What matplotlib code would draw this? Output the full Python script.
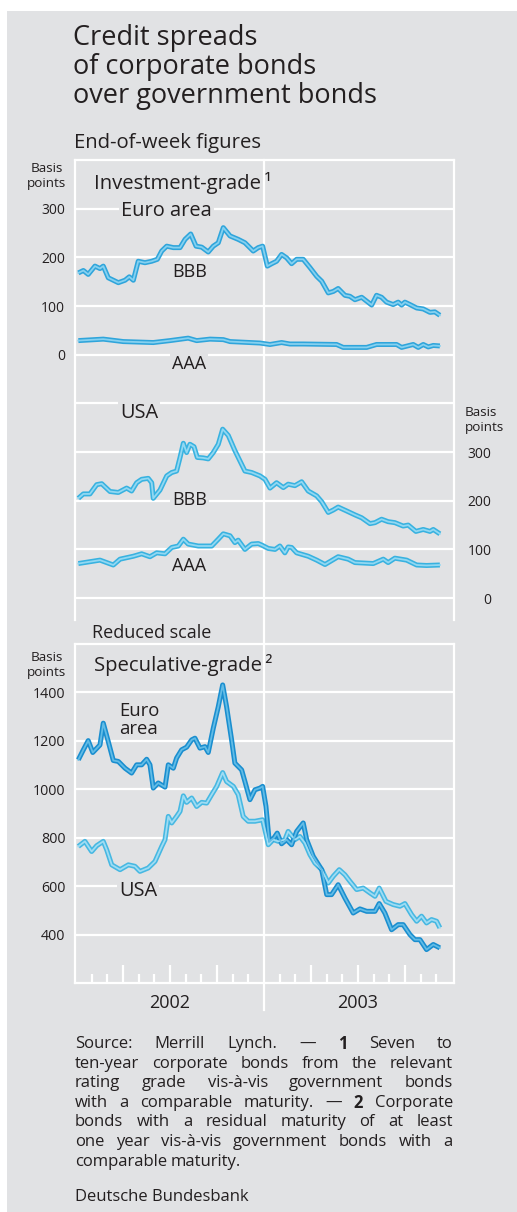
import matplotlib
matplotlib.use('Agg')
import matplotlib.pyplot as plt
from matplotlib import transforms
from matplotlib.patches import Rectangle
from matplotlib.lines import Line2D

# ---------------- data (months since 1 Jan 2002, basis points) ----------------
eu_bbb_t = [0.15, 0.47, 0.78, 1.21, 1.53, 1.74, 2.06, 2.38, 2.70, 3.13, 3.40, 3.66, 3.97, 4.40,
            4.83, 5.19, 5.47, 5.79, 6.21, 6.64, 6.96, 7.32, 7.66, 8.02, 8.44, 8.76, 9.08, 9.40,
            9.83, 10.35, 10.78, 11.31, 11.63, 11.91, 12.21, 12.49, 12.80, 13.12, 13.44, 13.76,
            14.08, 14.50, 14.93, 15.36, 15.68, 16.10, 16.42, 16.73, 17.16, 17.48, 17.80, 18.23,
            18.55, 18.87, 19.18, 19.50, 19.82, 20.24, 20.56, 20.78, 20.99, 21.31, 21.74, 22.16,
            22.59, 22.90, 23.22]
eu_bbb = [168, 173, 165, 182, 177, 182, 158, 153, 148, 153, 160, 153, 192, 189, 192, 196, 213,
          223, 220, 220, 237, 248, 223, 221, 211, 223, 230, 261, 244, 237, 230, 213, 220, 223,
          182, 187, 192, 206, 199, 187, 196, 196, 179, 161, 151, 127, 130, 136, 122, 120, 113,
          118, 110, 102, 122, 118, 108, 103, 108, 102, 108, 103, 96, 94, 87, 88, 81]

eu_aaa_t = [0.15, 1.74, 3.02, 4.93, 6.00, 7.16, 7.70, 8.55, 9.40, 9.83, 11.74, 12.38, 13.12,
            13.65, 14.50, 16.63, 17.05, 17.91, 18.55, 19.18, 20.46, 20.78, 21.52, 21.84, 22.16,
            22.48, 22.80, 23.22]
eu_aaa = [29, 32, 27, 25, 29, 34, 29, 32, 31, 27, 24, 21, 25, 22, 22, 21, 15, 15, 15, 21, 21,
          15, 21, 15, 21, 16, 19, 18]

us_bbb_t = [0.15, 0.47, 0.89, 1.32, 1.64, 2.17, 2.70, 3.23, 3.55, 3.87, 4.19, 4.61, 4.83, 4.93,
            5.36, 5.79, 6.11, 6.42, 6.64, 6.85, 7.06, 7.27, 7.53, 7.74, 8.12, 8.44, 8.76, 9.08,
            9.36, 9.72, 10.14, 10.46, 10.78, 11.21, 11.74, 12.06, 12.38, 12.80, 13.23, 13.54,
            13.97, 14.40, 14.82, 15.36, 15.68, 16.10, 16.42, 16.73, 17.27, 17.80, 18.23, 18.76,
            19.08, 19.50, 19.92, 20.35, 20.88, 21.20, 21.69, 22.16, 22.59, 22.80, 23.22]
us_bbb = [205, 214, 214, 233, 235, 219, 217, 226, 220, 237, 244, 246, 237, 205, 222, 251, 258,
          261, 289, 318, 299, 316, 311, 289, 288, 286, 299, 316, 347, 334, 303, 282, 261, 258,
          251, 244, 226, 237, 227, 234, 231, 239, 220, 210, 198, 176, 181, 187, 179, 171, 165,
          153, 155, 162, 157, 155, 148, 150, 137, 141, 137, 141, 132]

us_aaa_t = [0.15, 1.53, 2.38, 2.81, 3.66, 4.19, 4.72, 5.15, 5.68, 6.11, 6.53, 6.85, 7.16, 7.80,
            8.66, 9.08, 9.40, 9.83, 10.14, 10.35, 10.78, 11.21, 11.63, 11.85, 12.27, 12.70,
            13.01, 13.33, 13.54, 13.76, 14.08, 14.82, 15.36, 15.89, 16.73, 17.37, 17.80, 18.97,
            19.61, 19.92, 20.35, 21.10, 21.74, 22.37, 23.22]
us_aaa = [71, 78, 68, 80, 86, 91, 85, 93, 91, 104, 107, 121, 111, 107, 107, 121, 132, 128, 114,
          119, 100, 111, 112, 109, 102, 100, 107, 93, 105, 104, 93, 86, 78, 69, 85, 80, 73, 71,
          80, 73, 82, 78, 68, 67, 68]

spec_eu_t = [0.15, 0.47, 0.78, 1.07, 1.53, 1.74, 2.06, 2.38, 2.70, 3.13, 3.55, 3.87, 4.19, 4.51,
             4.72, 4.93, 5.25, 5.68, 5.89, 6.21, 6.42, 6.74, 7.06, 7.38, 7.59, 7.91, 8.23, 8.44,
             8.76, 9.08, 9.36, 9.61, 9.93, 10.14, 10.57, 10.78, 11.10, 11.42, 11.74, 11.91,
             12.12, 12.33, 12.63, 12.84, 13.12, 13.44, 13.76, 14.08, 14.50, 14.72, 15.14, 15.68,
             16.00, 16.31, 16.73, 17.16, 17.69, 18.12, 18.55, 19.08, 19.35, 19.71, 20.14, 20.56,
             20.88, 21.31, 21.63, 21.95, 22.37, 22.80, 23.22]
spec_eu = [1122, 1163, 1201, 1152, 1183, 1273, 1197, 1119, 1115, 1087, 1067, 1101, 1101, 1124,
           1101, 1005, 1026, 1009, 1101, 1087, 1129, 1163, 1174, 1204, 1211, 1170, 1176, 1152,
           1252, 1341, 1431, 1341, 1204, 1108, 1080, 1032, 957, 998, 1005, 1012, 930, 785, 799,
           819, 775, 792, 771, 826, 861, 792, 723, 668, 565, 565, 606, 551, 489, 506, 496, 496,
           528, 489, 420, 441, 441, 400, 379, 379, 338, 359, 345]

spec_us_t = [0.15, 0.57, 1.00, 1.32, 1.74, 1.96, 2.28, 2.81, 3.34, 3.76, 4.08, 4.61, 5.04, 5.47,
             5.68, 5.89, 6.11, 6.42, 6.64, 6.85, 7.06, 7.38, 7.70, 8.02, 8.34, 8.66, 8.98, 9.36,
             9.61, 10.04, 10.35, 10.67, 10.99, 11.42, 11.91, 12.27, 12.59, 12.91, 13.33, 13.54,
             13.97, 14.29, 14.61, 14.93, 15.25, 15.68, 16.10, 16.42, 16.80, 17.16, 17.48, 17.91,
             18.33, 18.76, 19.08, 19.35, 19.78, 20.24, 20.67, 20.99, 21.42, 21.74, 22.05, 22.37,
             22.69, 23.01, 23.22]
spec_us = [764, 785, 743, 767, 785, 750, 688, 668, 688, 682, 661, 675, 702, 764, 792, 888, 861,
           888, 909, 973, 946, 964, 929, 946, 943, 978, 1012, 1069, 1032, 1012, 978, 888, 868,
           868, 874, 771, 792, 785, 792, 826, 792, 805, 778, 730, 695, 668, 613, 641, 668, 647,
           620, 586, 592, 572, 558, 592, 537, 524, 517, 528, 482, 455, 476, 448, 462, 455, 428]

inv_left_ticks = [0, 100, 200, 300]
inv_right_ticks = [0, 100, 200, 300]
spec_ticks = [400, 600, 800, 1000, 1200, 1400]
year_labels = ['2002', '2003']

# ---------------- style ----------------
W, H = 517, 1212
plt.rcParams['font.family'] = ['Open Sans', 'DejaVu Sans']
TXT = '#231f20'
BG = '#e1e2e4'
GRID = 'white'

fig = plt.figure(figsize=(W / 100, H / 100), dpi=100, facecolor='white')
fig.add_artist(Rectangle((7 / W, 0), 1 - 7 / W, 1 - 11 / H, transform=fig.transFigure,
                         facecolor=BG, edgecolor='none', zorder=-5))


def fx(px):
    return px / W


def fy(py):
    return 1 - py / H


XMIN, XMAX = -1 / 15.67, (454 - 76) / 15.67


def cased(ax, t, v, outer, inner, lw=3.6):
    ax.plot(t, v, color=outer, lw=lw, solid_joinstyle='round', solid_capstyle='butt', zorder=3)
    ax.plot(t, v, color=inner, lw=lw * 0.36, solid_joinstyle='round', zorder=4)


# ---------------- investment grade panel ----------------
ax1 = fig.add_axes([fx(75), fy(620), (454 - 75) / W, (620 - 160) / H])
ax1.set_facecolor('none')
ax1.set_xlim(XMIN, XMAX)
ax1.set_ylim(-545, 400)
grid_levels = list(range(-500, 301, 100))
ax1.set_yticks(grid_levels)
ax1.set_yticklabels([str(v) if v in inv_left_ticks else '' for v in grid_levels])
ax1.set_xticks([])
ax1.tick_params(axis='y', length=0, pad=7, labelsize=10, labelcolor=TXT)
ax1.grid(axis='y', color=GRID, lw=1.6)
for s in ['left', 'right', 'top']:
    ax1.spines[s].set_color(GRID)
    ax1.spines[s].set_linewidth(1.6)
ax1.spines['bottom'].set_visible(False)

inv_c_out, inv_c_in = '#2fa5db', '#86d1f0'
cased(ax1, eu_bbb_t, eu_bbb, inv_c_out, inv_c_in)
cased(ax1, eu_aaa_t, eu_aaa, inv_c_out, inv_c_in)

ax1r = ax1.twinx()
ax1r.set_facecolor('none')
ax1r.set_ylim(-45, 900)
ax1r.set_yticks(inv_right_ticks)
ax1r.set_yticklabels([str(v) for v in inv_right_ticks])
ax1r.tick_params(axis='y', length=0, pad=27, labelsize=10, labelcolor=TXT)
for lab in ax1r.get_yticklabels():
    lab.set_ha('right')
for s in ax1r.spines.values():
    s.set_visible(False)
cased(ax1r, us_bbb_t, us_bbb, '#38b2e0', '#92d8f2')
cased(ax1r, us_aaa_t, us_aaa, '#38b2e0', '#92d8f2')

# ---------------- speculative grade panel ----------------
ax2 = fig.add_axes([fx(75), fy(983), (454 - 75) / W, (983 - 644) / H])
ax2.set_facecolor('none')
ax2.set_xlim(XMIN, XMAX)
ax2.set_ylim(200, 1600)
ax2.set_yticks(spec_ticks)
ax2.tick_params(axis='y', length=0, pad=7, labelsize=10.3, labelcolor=TXT)
ax2.grid(axis='y', color=GRID, lw=1.6)
for s in ax2.spines.values():
    s.set_color(GRID)
    s.set_linewidth(1.6)
major_m = [3, 6, 9, 15, 18, 21]
minor_m = [m for m in range(1, 24) if m % 3 != 0]
ax2.set_xticks(major_m)
ax2.set_xticks(minor_m, minor=True)
ax2.tick_params(axis='x', which='both', direction='in', color=GRID, width=1.6,
                labelbottom=False)
ax2.tick_params(axis='x', which='major', length=13)
ax2.tick_params(axis='x', which='minor', length=6.5)

cased(ax2, spec_us_t, spec_us, '#46b8e2', '#9fdcf3')
cased(ax2, spec_eu_t, spec_eu, '#1a8ecf', '#62bce6')

# year boundary line across both panels
blend = transforms.blended_transform_factory(ax2.transData, fig.transFigure)
fig.add_artist(Line2D([12, 12], [fy(160), fy(1010)], transform=blend, color=GRID, lw=1.6,
                      zorder=-1))
for i, lab in enumerate(year_labels):
    fig.text(6 + 12 * i, fy(1003), lab, transform=blend, ha='center', va='center',
             fontsize=13, color=TXT)

# ---------------- texts ----------------
title_lines = ['Credit spreads', 'of corporate bonds', 'over government bonds']
for i, line in enumerate(title_lines):
    fig.text(fx(73), fy(38 + 29 * i), line, fontsize=19.5, color=TXT, va='center')
fig.text(fx(74), fy(143), 'End-of-week figures', fontsize=14.6, color=TXT, va='center')

box = dict(facecolor=BG, edgecolor='none', pad=1.5)
fig.text(fx(47), fy(176), 'Basis\npoints', fontsize=9.7, color=TXT, ha='center', va='center',
         linespacing=1.2)
fig.text(fx(465), fy(420), 'Basis\npoints', fontsize=9.7, color=TXT, ha='left', va='center',
         linespacing=1.2)
fig.text(fx(47), fy(665), 'Basis\npoints', fontsize=9.7, color=TXT, ha='center', va='center',
         linespacing=1.2)

fig.text(fx(94), fy(183), 'Investment-grade\u2009¹', fontsize=14.6, color=TXT, va='center')
fig.text(fx(121), fy(211), 'Euro area', fontsize=14.4, color=TXT, va='center', bbox=box)
fig.text(fx(172), fy(272), 'BBB', fontsize=13, color=TXT, va='center', bbox=box)
fig.text(fx(172), fy(364), 'AAA', fontsize=13, color=TXT, va='center', bbox=box)
fig.text(fx(120), fy(413), 'USA', fontsize=14.4, color=TXT, va='center', bbox=box)
fig.text(fx(172), fy(500), 'BBB', fontsize=13, color=TXT, va='center', bbox=box)
fig.text(fx(172), fy(566), 'AAA', fontsize=13, color=TXT, va='center', bbox=box)
fig.text(fx(92), fy(633), 'Reduced scale', fontsize=13, color=TXT, va='center')
fig.text(fx(94), fy(665), 'Speculative-grade\u2009²', fontsize=14.6, color=TXT, va='center')
fig.text(fx(119), fy(720), 'Euro\narea', fontsize=13.3, color=TXT, va='center',
         linespacing=1.05)
fig.text(fx(119), fy(891), 'USA', fontsize=14.4, color=TXT, va='center', bbox=box)

# ---------------- footnote (justified) ----------------
renderer = fig.canvas.get_renderer()
FN = 12
foot_lines = [
    [('Source:', 'normal'), ('Merrill', 'normal'), ('Lynch.', 'normal'), ('—', 'normal'),
     ('1', 'bold'), ('Seven', 'normal'), ('to', 'normal')],
    [(w, 'normal') for w in 'ten-year corporate bonds from the relevant'.split()],
    [(w, 'normal') for w in 'rating grade vis-à-vis government bonds'.split()],
    [(w, 'normal') for w in 'with a comparable maturity.'.split()] + [('—', 'normal'), ('2', 'bold'), ('Corporate', 'normal')],
    [(w, 'normal') for w in 'bonds with a residual maturity of at least'.split()],
    [(w, 'normal') for w in 'one year vis-à-vis government bonds with a'.split()],
    [(w, 'normal') for w in 'comparable maturity.'.split()],
]
for i, words in enumerate(foot_lines):
    y = 1044 + 19.6 * i
    arts = [fig.text(0, fy(y), w, fontsize=FN, fontweight=wt, color=TXT, va='center')
            for w, wt in words]
    widths = [a.get_window_extent(renderer).width for a in arts]
    if i == len(foot_lines) - 1:
        gap = 4
    else:
        gap = (453 - 75 - sum(widths)) / (len(words) - 1)
    x = 75
    for a, wd in zip(arts, widths):
        a.set_x(fx(x))
        x += wd + gap
fig.text(fx(75), fy(1197), 'Deutsche Bundesbank', fontsize=FN, color=TXT, va='center')

fig.savefig('out.png', dpi=100, facecolor='white')
